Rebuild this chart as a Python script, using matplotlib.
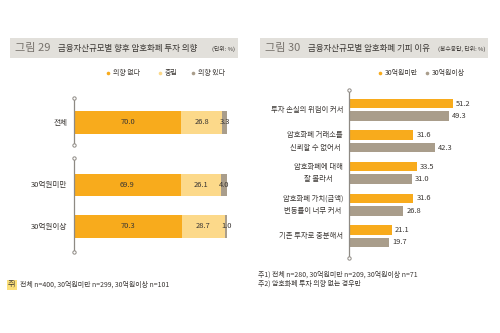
import matplotlib
matplotlib.use("Agg")
import matplotlib.pyplot as plt
from matplotlib.patches import Rectangle

plt.rcParams['font.family'] = ['Noto Sans CJK KR', 'DejaVu Sans']

# ---- data: figure 29 (intention to invest) ----
left_groups = ['전체', '30억원미만', '30억원이상']
left_series = ['의향 없다', '중립', '의향 있다']
no_intent = [70.0, 69.9, 70.3]
neutral = [26.8, 26.1, 28.7]
intent = [3.3, 4.0, 1.0]

# ---- data: figure 30 (reasons for avoiding) ----
reasons = ['투자 손실의 위험이 커서',
           '암호화폐 거래소를\n신뢰할 수 없어서',
           '암호화폐에 대해\n잘 몰라서',
           '암호화폐 가치(금액)\n변동률이 너무 커서',
           '기존 투자로 충분해서']
right_series = ['30억원미만', '30억원이상']
under30 = [51.2, 31.6, 33.5, 31.6, 21.1]
over30 = [49.3, 42.3, 31.0, 26.8, 19.7]

ORANGE = '#F8AB1C'
LIGHT = '#FCD98A'
GRAY = '#A99D8B'
AXIS = '#8E8A84'
TXT = '#3A3633'

W, H = 500, 333
fig = plt.figure(figsize=(W / 100, H / 100), dpi=100)
fig.patch.set_facecolor('white')


def px_axes(x0, y0, x1, y1):
    return fig.add_axes([x0 / W, 1 - y1 / H, (x1 - x0) / W, (y1 - y0) / H])


# overlay axes in pixel coordinates for titles, legends and notes
ov = fig.add_axes([0, 0, 1, 1])
ov.set_xlim(0, W)
ov.set_ylim(H, 0)
ov.axis('off')
ov.set_zorder(5)

# title bars
for x0, num, title, unit in [(10, '그림 29', '금융자산규모별 향후 암호화폐 투자 의향', '(단위: %)'),
                             (260, '그림 30', '금융자산규모별 암호화폐 기피 이유', '(복수응답, 단위: %)')]:
    ov.add_patch(Rectangle((x0, 38), 228, 20, facecolor='#E2E0DB', edgecolor='none'))
    ov.text(x0 + 5, 48.5, num, fontsize=8.0, color='#77726C', va='center', ha='left')
    ov.text(x0 + 48, 48.5, title, fontsize=6.1, color=TXT, va='center', ha='left')
    ov.text(x0 + 225, 48.5, unit, fontsize=4.2, color=TXT, va='center', ha='right')

# legends
def legend_item(x, label, color):
    ov.plot([x], [73], 'o', ms=2.6, color=color, mec='none')
    ov.text(x + 5, 73, label, fontsize=5, color=TXT, va='center', ha='left')

for x, lab, c in zip([108, 160, 193], left_series, [ORANGE, LIGHT, GRAY]):
    legend_item(x, lab, c)
for x, lab, c in zip([380, 427], right_series, [ORANGE, GRAY]):
    legend_item(x, lab, c)

# ---- left chart ----
axL = px_axes(74, 90, 227, 260)
axL.set_xlim(0, 100)
axL.set_ylim(260, 90)
axL.axis('off')
ly = [122.5, 185, 226.5]
bh = 22.5
lefts = [0, 0, 0]
for vals, c in zip([no_intent, neutral, intent], [ORANGE, LIGHT, GRAY]):
    axL.barh(ly, vals, left=lefts, height=bh, color=c, edgecolor='none')
    for y, v, l in zip(ly, vals, lefts):
        axL.text(l + v / 2, y, f'{v:.1f}', fontsize=5.4, color=TXT, ha='center', va='center')
    lefts = [a + b for a, b in zip(lefts, vals)]
for y, g in zip(ly, left_groups):
    axL.text(-4.5, y, g, fontsize=5.5, color=TXT, ha='right', va='center')
# axis segments with hollow end circles
for y0, y1 in [(98, 145), (158, 252)]:
    axL.plot([0, 0], [y0, y1], color=AXIS, lw=0.9, clip_on=False)
    axL.plot([0, 0], [y0, y1], 'o', ms=2.4, mfc='white', mec=AXIS, mew=0.7, clip_on=False)

# ---- right chart ----
axR = px_axes(349, 85, 490, 262)
axR.set_xlim(0, (490 - 349) / 2.03)
axR.set_ylim(262, 85)
axR.axis('off')
oy = [103.5 + 31.6 * i for i in range(len(reasons))]
gy = [y + 12.5 for y in oy]
rbh = 9.6
axR.barh(oy, under30, height=rbh, color=ORANGE, edgecolor='none')
axR.barh(gy, over30, height=rbh, color=GRAY, edgecolor='none')
for ys, vals in [(oy, under30), (gy, over30)]:
    for y, v in zip(ys, vals):
        axR.text(v + 1.6, y, f'{v:.1f}', fontsize=5.4, color=TXT, ha='left', va='center')
for y, r in zip(oy, reasons):
    axR.text(-3, y + 6.25, r, fontsize=5.3, color=TXT, ha='right', va='center',
             multialignment='center', linespacing=1.75)
axR.plot([0, 0], [90, 258], color=AXIS, lw=0.9, clip_on=False)
axR.plot([0, 0], [90, 258], 'o', ms=2.4, mfc='white', mec=AXIS, mew=0.7, clip_on=False)

# footnotes
ov.text(8, 285, '주)', fontsize=5, color=TXT, va='center', ha='left',
        bbox=dict(boxstyle='square,pad=0.12', fc='#FCE07A', ec='none'))
ov.text(20, 285, '전체 n=400, 30억원미만 n=299, 30억원이상 n=101', fontsize=5,
        color=TXT, va='center', ha='left')
ov.text(258, 275, '주1) 전체 n=280, 30억원미만 n=209, 30억원이상 n=71', fontsize=5,
        color=TXT, va='center', ha='left')
ov.text(258, 283.5, '주2) 암호화폐 투자 의향 없는 경우만', fontsize=5,
        color=TXT, va='center', ha='left')

fig.savefig('out.png', dpi=100)
